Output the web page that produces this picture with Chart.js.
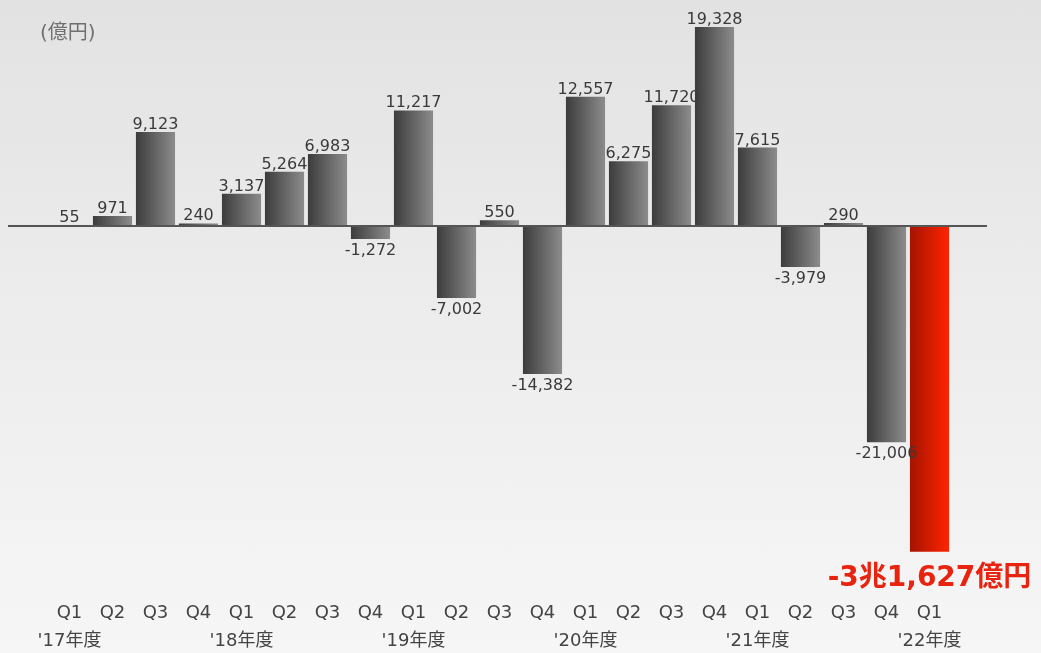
<!DOCTYPE html>
<html lang="ja">
<head>
<meta charset="utf-8">
<script src="https://cdn.jsdelivr.net/npm/chart.js@4"></script>
<style>
  html, body { margin:0; padding:0; }
  body { width:1041px; height:653px; background: linear-gradient(180deg, #e2e2e2 0%, #ececec 45%, #f6f6f6 100%); overflow:hidden; }
  #wrap { position:relative; width:1041px; height:653px; }
</style>
</head>
<body>
<div id="wrap"><canvas id="c"></canvas></div>
<script>
// 四半期ごとの値 (億円)
const quarters = ['Q1','Q2','Q3','Q4','Q1','Q2','Q3','Q4','Q1','Q2','Q3','Q4','Q1','Q2','Q3','Q4','Q1','Q2','Q3','Q4','Q1'];
const fiscalYears = ["'17年度",'','','',"'18年度",'','','',"'19年度",'','','',"'20年度",'','','',"'21年度",'','','',"'22年度"];
const values = [55, 971, 9123, 240, 3137, 5264, 6983, -1272, 11217, -7002, 550, -14382, 12557, 6275, 11720, 19328, 7615, -3979, 290, -21006, -31627];
const highlightIndex = 20;
const highlightLabel = '-3兆1,627億円';
const unitLabel = '(億円)';

const FONT = "'DejaVu Sans', 'Noto Sans CJK JP', sans-serif";
const BAR_PCT = 0.91;

function fmt(n){ return n.toLocaleString('en-US'); }

// バーごとの横グラデーション (scriptable なので要素ごとに別オプション)
function barColor(c){
  const fallback = c.dataIndex === highlightIndex ? '#d01c00' : '#555';
  const chart = c.chart, xs = chart.scales && chart.scales.x;
  if (!xs || c.dataIndex === undefined) return fallback;
  const mid = xs.getPixelForValue(c.dataIndex);
  const w = xs.width / values.length * BAR_PCT;
  if (!isFinite(mid) || !isFinite(w) || w <= 0) return fallback;
  const g = chart.ctx.createLinearGradient(mid - w/2, 0, mid + w/2, 0);
  if (c.dataIndex === highlightIndex){ g.addColorStop(0, '#a31400'); g.addColorStop(1, '#ff2400'); }
  else { g.addColorStop(0, '#3c3c3c'); g.addColorStop(1, '#8c8c8c'); }
  return g;
}

// ゼロ線・値ラベル・単位
const decorations = {
  id: 'decorations',
  afterDatasetsDraw(chart){
    const ctx = chart.ctx;
    const y0 = chart.scales.y.getPixelForValue(0);
    ctx.save();
    ctx.strokeStyle = '#555';
    ctx.lineWidth = 2;
    ctx.beginPath(); ctx.moveTo(8, y0); ctx.lineTo(987, y0); ctx.stroke();

    ctx.textAlign = 'center';
    ctx.textBaseline = 'alphabetic';
    chart.getDatasetMeta(0).data.forEach((bar, i) => {
      const v = values[i];
      if (i === highlightIndex){
        ctx.fillStyle = '#e8230f';
        ctx.font = `bold 28px ${FONT}`;
        ctx.fillText(highlightLabel, bar.x, bar.y + 34);
        return;
      }
      ctx.fillStyle = '#3a3a3a';
      ctx.font = `16px ${FONT}`;
      if (v >= 0) ctx.fillText(fmt(v), bar.x, Math.min(bar.y, y0 - 1) - 3);
      else ctx.fillText(fmt(v), bar.x, bar.y + 16);
    });

    ctx.fillStyle = '#707070';
    ctx.font = `20px ${FONT}`;
    ctx.textAlign = 'left';
    ctx.textBaseline = 'middle';
    ctx.fillText(unitLabel, 40, 34);
    ctx.restore();
  }
};

new Chart(document.getElementById('c'), {
  type: 'bar',
  data: {
    labels: quarters.map((q, i) => [q, fiscalYears[i]]),
    datasets: [{ data: values, backgroundColor: barColor, borderWidth: 0, categoryPercentage: 1, barPercentage: BAR_PCT }]
  },
  options: {
    responsive: true,
    maintainAspectRatio: false,
    animation: false,
    layout: { padding: { top: 20, left: 48, right: 90, bottom: 0 } },
    plugins: { legend: { display: false }, tooltip: { enabled: false } },
    scales: {
      x: {
        grid: { display: false, drawTicks: false },
        border: { display: false },
        ticks: { color: '#444', autoSkip: false, maxRotation: 0, padding: 43, font: { family: FONT, size: 18, lineHeight: 1.6 } },
        afterFit(scale){ scale.height = 97.5; scale.paddingLeft = 0; scale.paddingRight = 0; }
      },
      y: { display: false, min: -32000, max: 20000 }
    }
  },
  plugins: [decorations]
});
</script>
</body>
</html>
